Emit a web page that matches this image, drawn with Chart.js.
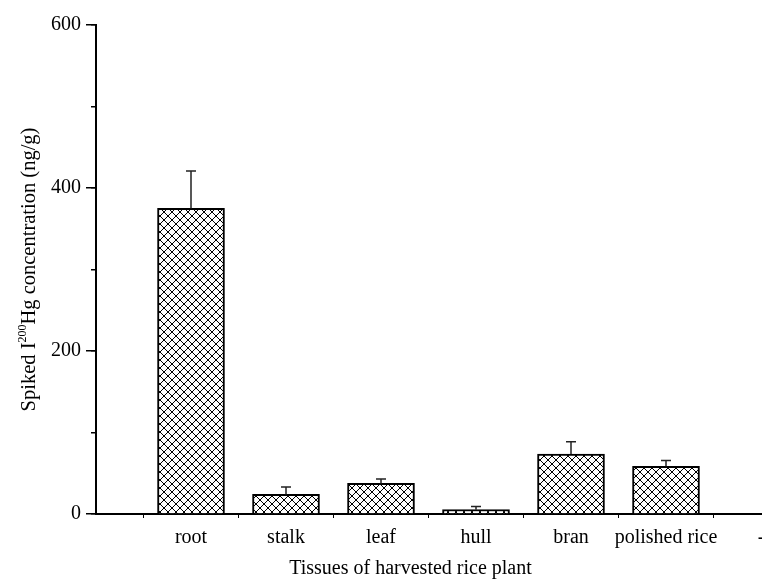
<!DOCTYPE html>
<html>
<head>
<meta charset="utf-8">
<script src="https://cdn.jsdelivr.net/npm/chart.js@4/dist/chart.umd.min.js"></script>
<style>
    body { margin: 0; background: #fff; }
    #chart { display: block; }
</style>
</head>
<body>
<canvas id="chart" width="762" height="582"></canvas>
<script>
// first and last slots are empty like in the original plot
const categories = ['', 'root', 'stalk', 'leaf', 'hull', 'bran', 'polished rice', '-'];
const concentration = [null, 375, 24, 37.5, 5.3, 73.5, 58.5, null];
const errorPlus = [null, 46, 9, 5.5, 4, 15, 7, null];
const yTicks = [0, 200, 400, 600];

const FONT = "'Liberation Serif', 'Times New Roman', serif";

function hatch(step) {
    const c = document.createElement('canvas');
    c.width = step;
    c.height = step;
    const g = c.getContext('2d');
    g.fillStyle = '#fff';
    g.fillRect(0, 0, step, step);
    g.strokeStyle = '#000';
    g.lineWidth = 1;
    g.beginPath();
    g.moveTo(-1, -1); g.lineTo(step + 1, step + 1);
    g.moveTo(step + 1, -1); g.lineTo(-1, step + 1);
    g.stroke();
    return g.createPattern(c, 'repeat');
}

// error bars (upper half only)
const errorBars = {
    id: 'errorBars',
    afterDatasetsDraw(chart) {
        const ctx = chart.ctx;
        const xs = chart.scales.x;
        const ys = chart.scales.y;
        ctx.save();
        ctx.strokeStyle = '#222';
        ctx.lineWidth = 1.5;
        concentration.forEach((v, i) => {
            if (v === null) return;
            const x = xs.getPixelForValue(i);
            const y0 = ys.getPixelForValue(v);
            const y1 = ys.getPixelForValue(v + errorPlus[i]);
            ctx.beginPath();
            ctx.moveTo(x, y0); ctx.lineTo(x, y1);
            ctx.moveTo(x - 5, y1); ctx.lineTo(x + 5, y1);
            ctx.stroke();
        });
        ctx.restore();
    }
};

// axis titles, the y one needs a superscript
const axisTitles = {
    id: 'axisTitles',
    afterDraw(chart) {
        const ctx = chart.ctx;
        const area = chart.chartArea;
        ctx.save();
        ctx.fillStyle = '#000';
        ctx.textBaseline = 'middle';

        ctx.font = '20px ' + FONT;
        ctx.textAlign = 'center';
        ctx.fillText('Tissues of harvested rice plant', (area.left + area.right) / 2 - 18, 569);

        const parts = [
            { t: 'Spiked I', size: 20.5, dy: 0 },
            { t: '200', size: 12, dy: -7 },
            { t: 'Hg concentration (ng/g)', size: 20.5, dy: 0 }
        ];
        let total = 0;
        parts.forEach(p => {
            ctx.font = p.size + 'px ' + FONT;
            p.w = ctx.measureText(p.t).width;
            total += p.w;
        });
        ctx.translate(30, (area.top + area.bottom) / 2);
        ctx.rotate(-Math.PI / 2);
        ctx.textAlign = 'left';
        let x = -total / 2;
        parts.forEach(p => {
            ctx.font = p.size + 'px ' + FONT;
            ctx.fillText(p.t, x, p.dy);
            x += p.w;
        });
        ctx.restore();
    }
};

const ctx = document.getElementById('chart').getContext('2d');

new Chart(ctx, {
    type: 'bar',
    data: {
        labels: categories,
        datasets: [{
            data: concentration,
            backgroundColor: hatch(8),
            borderColor: '#000',
            borderWidth: 2,
            barThickness: 67,
            borderSkipped: 'start'
        }]
    },
    options: {
        responsive: false,
        animation: false,
        devicePixelRatio: 1,
        layout: { padding: { top: 25, right: 1, left: 0, bottom: 0 } },
        plugins: {
            legend: { display: false },
            tooltip: { enabled: false }
        },
        scales: {
            x: {
                offset: false,
                grid: { offset: true, drawOnChartArea: false, tickLength: 4, color: '#000', lineWidth: 1 },
                border: { color: '#000', width: 2 },
                ticks: {
                    autoSkip: false,
                    maxRotation: 0,
                    color: '#000',
                    padding: 8,
                    font: { family: FONT, size: 20 }
                },
                afterFit: s => {
                    s.height = 68;
                    s.paddingLeft = 0;
                    s.paddingRight = 0;
                }
            },
            y: {
                min: 0,
                max: 600,
                afterBuildTicks: s => { s.ticks = yTicks.map(v => ({ value: v })); },
                grid: { drawOnChartArea: false, tickLength: 10, color: '#000', lineWidth: 1.5 },
                border: { color: '#000', width: 2 },
                ticks: {
                    color: '#000',
                    padding: 5,
                    font: { family: FONT, size: 20 }
                },
                afterFit: s => { s.width = 96; }
            },
            yMinor: {
                position: 'left',
                weight: -1,
                min: 0,
                max: 600,
                ticks: { stepSize: 100, display: false },
                grid: { drawOnChartArea: false, tickLength: 5, color: '#000', lineWidth: 1.5 },
                border: { display: false },
                afterFit: s => { s.width = 0; }
            }
        }
    },
    plugins: [errorBars, axisTitles]
});
</script>
</body>
</html>
